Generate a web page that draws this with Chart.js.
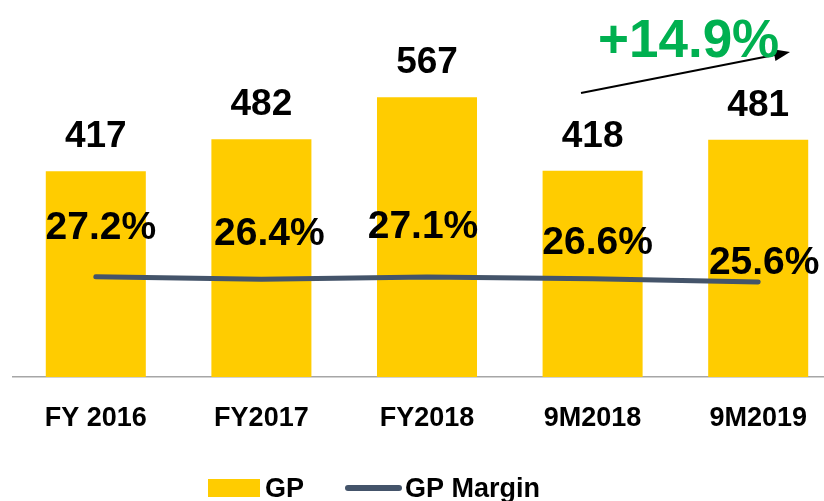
<!DOCTYPE html>
<html>
<head>
<meta charset="utf-8">
<script src="https://cdn.jsdelivr.net/npm/chart.js@4/dist/chart.umd.min.js"></script>
<style>
    html, body { margin: 0; padding: 0; background: #ffffff; overflow: hidden; }
    #wrap { width: 824px; height: 501px; overflow: hidden; position: relative; }
    canvas { position: absolute; left: 0; top: 0; }
</style>
</head>
<body>
<div id="wrap"><canvas id="gpChart" width="845" height="501"></canvas></div>
<script>
const categories = ['FY 2016', 'FY2017', 'FY2018', '9M2018', '9M2019'];
const gpValues = [417, 482, 567, 418, 481];
const gpMargin = [27.2, 26.4, 27.1, 26.6, 25.6];
const growthLabel = '+14.9%';

const FONT = '"Liberation Sans", Arial, sans-serif';
const BAR_COLOR = '#FFCC00';
const LINE_COLOR = '#44546A';

// where the margin labels sit relative to their point (dx, dy up)
const marginLabelOffsets = [[5, 49], [8, 46], [-4, 51], [5, 36], [6, 20]];

// bar values, margin labels, growth arrow and legend
const labelsPlugin = {
    id: 'labels',
    afterDatasetsDraw(chart) {
        const ctx = chart.ctx;
        ctx.save();
        ctx.fillStyle = '#000000';
        ctx.textAlign = 'center';

        ctx.font = 'bold 37px ' + FONT;
        ctx.textBaseline = 'alphabetic';
        chart.getDatasetMeta(0).data.forEach((bar, i) => {
            ctx.fillText(String(gpValues[i]), bar.x, bar.y - 24);
        });

        ctx.font = 'bold 39px ' + FONT;
        ctx.textBaseline = 'middle';
        chart.getDatasetMeta(1).data.forEach((pt, i) => {
            const off = marginLabelOffsets[i];
            ctx.fillText(gpMargin[i].toFixed(1) + '%', pt.x + off[0], pt.y - off[1] + 1);
        });

        // growth arrow
        const x1 = 581, y1 = 93, x2 = 790, y2 = 52;
        const ang = Math.atan2(y2 - y1, x2 - x1);
        ctx.strokeStyle = '#000000';
        ctx.lineWidth = 2;
        ctx.beginPath();
        ctx.moveTo(x1, y1);
        ctx.lineTo(x2 - 12 * Math.cos(ang), y2 - 12 * Math.sin(ang));
        ctx.stroke();
        ctx.fillStyle = '#000000';
        ctx.beginPath();
        ctx.moveTo(x2, y2);
        ctx.lineTo(x2 - 16 * Math.cos(ang) + 6 * Math.sin(ang), y2 - 16 * Math.sin(ang) - 6 * Math.cos(ang));
        ctx.lineTo(x2 - 16 * Math.cos(ang) - 6 * Math.sin(ang), y2 - 16 * Math.sin(ang) + 6 * Math.cos(ang));
        ctx.closePath();
        ctx.fill();

        ctx.fillStyle = '#00B050';
        ctx.font = 'bold 53px ' + FONT;
        ctx.textAlign = 'left';
        ctx.textBaseline = 'alphabetic';
        ctx.fillText(growthLabel, 598, 57);

        // legend
        const ds = chart.data.datasets;
        ctx.fillStyle = ds[0].backgroundColor;
        ctx.fillRect(208, 479, 52, 18);
        ctx.strokeStyle = ds[1].borderColor;
        ctx.lineWidth = 6;
        ctx.lineCap = 'round';
        ctx.beginPath();
        ctx.moveTo(348, 488);
        ctx.lineTo(399, 488);
        ctx.stroke();
        ctx.fillStyle = '#000000';
        ctx.font = 'bold 27px ' + FONT;
        ctx.fillText(ds[0].label, 265, 497);
        ctx.fillText(ds[1].label, 405, 497);
        ctx.restore();
    }
};

const chart = new Chart(document.getElementById('gpChart').getContext('2d'), {
    data: {
        labels: categories,
        datasets: [{
            type: 'bar',
            label: 'GP',
            data: gpValues,
            backgroundColor: BAR_COLOR,
            barPercentage: 0.604,
            categoryPercentage: 1,
            yAxisID: 'y',
            order: 2
        }, {
            type: 'line',
            label: 'GP Margin',
            data: gpMargin,
            borderColor: LINE_COLOR,
            borderWidth: 5,
            borderCapStyle: 'round',
            pointRadius: 0,
            tension: 0,
            yAxisID: 'y2',
            order: 1
        }]
    },
    options: {
        responsive: false,
        animation: false,
        layout: { padding: { left: 13, right: 4, top: 2, bottom: 0 } },
        plugins: {
            legend: { display: false },
            tooltip: { enabled: false }
        },
        scales: {
            x: {
                grid: { display: false, drawTicks: false },
                border: { display: true, color: '#A6A6A6', width: 1.5 },
                ticks: {
                    color: '#000000',
                    padding: 25,
                    font: { family: FONT, size: 27, weight: 'bold' }
                },
                afterFit(scale) { scale.height = 124; }
            },
            y: { display: false, min: 0, max: 760 },
            y2: { display: false, min: -3.1, max: 110.2 }
        }
    },
    plugins: [labelsPlugin]
});
</script>
</body>
</html>
